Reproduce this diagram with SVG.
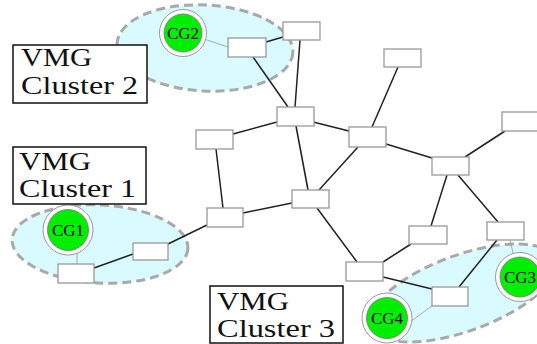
<svg xmlns="http://www.w3.org/2000/svg" width="537" height="344" viewBox="0 0 537 344">
<style>
.cl{fill:#d9fbff;stroke:#a9a9a9;stroke-width:3;stroke-dasharray:9 5}
.bx{fill:#fff;stroke:#999;stroke-width:1.3}
.lb{fill:#fff;stroke:#111;stroke-width:1.5}
.lt{font-family:"Liberation Serif","DejaVu Serif",serif;font-size:26px;fill:#111}
.ring{fill:#fff;stroke:#999;stroke-width:1}
.cg{fill:#00ee00;stroke:#777;stroke-width:0.8}
.ct{font-family:"Liberation Serif","DejaVu Serif",serif;font-size:17px;fill:#000;text-anchor:middle}
.e{stroke:#222;stroke-width:1.5;fill:none}
.t{stroke:#999;stroke-width:0.8;fill:none}
</style>
<rect width="537" height="344" fill="#fff"/>
<g id="clusters">
<ellipse class="cl" cx="205" cy="48" rx="88" ry="43" transform="rotate(3 205 48)"/>
<ellipse class="cl" cx="100" cy="244" rx="88" ry="39" transform="rotate(3 100 244)"/>
<ellipse class="cl" cx="463" cy="293" rx="98" ry="38" transform="rotate(-20 463 293)"/>
</g>
<g id="connectors">
<line class="t" x1="201" y1="38" x2="228" y2="47"/>
<line class="t" x1="77" y1="250" x2="77" y2="264"/>
<line class="t" x1="510" y1="240" x2="514" y2="257"/>
<line class="t" x1="406" y1="325" x2="433" y2="305"/>
<line class="e" x1="266" y1="42" x2="283" y2="37"/>
<line class="e" x1="253" y1="57" x2="288" y2="107"/>
<line class="e" x1="300" y1="40" x2="295" y2="107"/>
<line class="e" x1="233" y1="134" x2="277" y2="122"/>
<line class="e" x1="313" y1="122" x2="349" y2="131"/>
<line class="e" x1="296" y1="126" x2="308" y2="190"/>
<line class="e" x1="216" y1="149" x2="223" y2="208"/>
<line class="e" x1="243" y1="213" x2="292" y2="203"/>
<line class="e" x1="398" y1="67" x2="372" y2="127"/>
<line class="e" x1="358" y1="147" x2="319" y2="190"/>
<line class="e" x1="386" y1="144" x2="432" y2="158"/>
<line class="e" x1="465" y1="157" x2="505" y2="131"/>
<line class="e" x1="447" y1="175" x2="431" y2="226"/>
<line class="e" x1="458" y1="175" x2="498" y2="222"/>
<line class="e" x1="317" y1="208" x2="357" y2="262"/>
<line class="e" x1="383" y1="262" x2="411" y2="244"/>
<line class="e" x1="383" y1="277" x2="432" y2="289"/>
<line class="e" x1="497" y1="240" x2="459" y2="287"/>
<line class="e" x1="168" y1="244" x2="207" y2="225"/>
<line class="e" x1="94" y1="268" x2="133" y2="254"/>
</g>
<g id="A"><rect class="bx" x="228" y="38" width="38" height="19"/></g>
<g id="B"><rect class="bx" x="283" y="22" width="37" height="18"/></g>
<g id="C"><rect class="bx" x="277" y="107" width="37" height="19"/></g>
<g id="D"><rect class="bx" x="196" y="130" width="37" height="19"/></g>
<g id="E"><rect class="bx" x="349" y="127" width="37" height="20"/></g>
<g id="F"><rect class="bx" x="384" y="49" width="37" height="18"/></g>
<g id="G"><rect class="bx" x="502" y="112" width="37" height="19"/></g>
<g id="H"><rect class="bx" x="432" y="157" width="37" height="18"/></g>
<g id="I"><rect class="bx" x="292" y="190" width="37" height="18"/></g>
<g id="J"><rect class="bx" x="207" y="208" width="36" height="19"/></g>
<g id="K"><rect class="bx" x="409" y="226" width="38" height="18"/></g>
<g id="L"><rect class="bx" x="487" y="222" width="37" height="18"/></g>
<g id="M"><rect class="bx" x="346" y="262" width="37" height="19"/></g>
<g id="N"><rect class="bx" x="432" y="287" width="36" height="19"/></g>
<g id="O"><rect class="bx" x="133" y="243" width="35" height="17"/></g>
<g id="P"><rect class="bx" x="58" y="264" width="36" height="19"/></g>
<g id="CG2"><circle class="ring" cx="183" cy="33" r="23.5"/><circle class="cg" cx="183" cy="33" r="19"/><text class="ct" x="183" y="39">CG2</text></g>
<g id="CG1"><circle class="ring" cx="68" cy="230" r="25"/><circle class="cg" cx="68" cy="230" r="20.5"/><text class="ct" x="68" y="236">CG1</text></g>
<g id="CG3"><circle class="ring" cx="520" cy="277" r="24.5"/><circle class="cg" cx="520" cy="277" r="20"/><text class="ct" x="520" y="283">CG3</text></g>
<g id="CG4"><circle class="ring" cx="387" cy="318" r="25"/><circle class="cg" cx="387" cy="318" r="20.5"/><text class="ct" x="387" y="324">CG4</text></g>
<g id="label2"><rect class="lb" x="13" y="45" width="134" height="58"/><text class="lt" x="21" y="66" textLength="71" lengthAdjust="spacingAndGlyphs">VMG</text><text class="lt" x="21" y="94" textLength="117" lengthAdjust="spacingAndGlyphs">Cluster 2</text></g>
<g id="label1"><rect class="lb" x="13" y="147" width="133" height="57"/><text class="lt" x="19" y="170" textLength="72" lengthAdjust="spacingAndGlyphs">VMG</text><text class="lt" x="19" y="197" textLength="117" lengthAdjust="spacingAndGlyphs">Cluster 1</text></g>
<g id="label3"><rect class="lb" x="210" y="286" width="133" height="57"/><text class="lt" x="217" y="310" textLength="72" lengthAdjust="spacingAndGlyphs">VMG</text><text class="lt" x="217" y="337" textLength="118" lengthAdjust="spacingAndGlyphs">Cluster 3</text></g>
</svg>
